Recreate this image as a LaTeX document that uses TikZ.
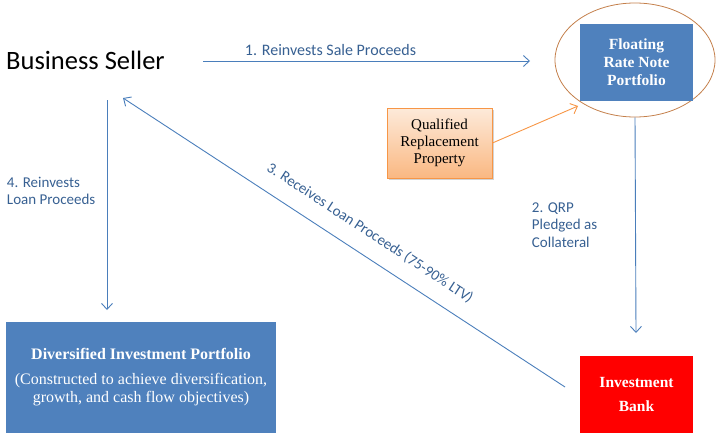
\documentclass[tikz,border=0pt]{standalone}
\usepackage{fontspec}
\setmainfont{Liberation Serif}
\newfontfamily\calfont{Carlito}
\usetikzlibrary{arrows.meta,shadows,shapes.geometric}
\definecolor{lineblue}{RGB}{74,126,187}
\definecolor{boxblue}{RGB}{79,129,189}
\definecolor{textblue}{RGB}{55,96,146}
\definecolor{qrpline}{RGB}{247,150,70}
\definecolor{qrptop}{RGB}{253,234,218}
\definecolor{qrpbot}{RGB}{250,184,130}
\definecolor{ringbrown}{RGB}{196,128,76}
\tikzset{
  flow/.style={draw=lineblue, line width=0.9pt, -{Straight Barb[length=6pt,width=11pt]}},
  steplabel/.style={text=textblue, font=\calfont\fontsize{15}{17.5}\selectfont, inner sep=0.75pt},
  fillbox/.style={text=white, font=\bfseries\fontsize{15.5}{18}\selectfont, align=center, inner sep=0pt},
}
\begin{document}
\begin{tikzpicture}[x=1pt,y=1pt,yscale=-1,xscale=1]
    \useasboundingbox (0,0) rectangle (719,439);
    % Text Node
    \node[anchor=west, inner sep=0pt, font=\calfont\fontsize{26.5}{30}\selectfont] (seller) at (6,60) {Business Seller};
    % Ellipse
    \node[draw=ringbrown, line width=0.8pt, ellipse, minimum width=160, minimum height=114] (ring) at (635,60) {};
    % Blue box
    \node[fillbox, fill=boxblue, minimum width=113, minimum height=77] (frn) at (636.5,62.5) {Floating\\Rate Note\\Portfolio};
    % Orange box
    \node[draw=qrpline, line width=0.8pt, top color=qrptop, bottom color=qrpbot, drop shadow={opacity=0.35, shadow xshift=2pt, shadow yshift=-2pt},
          minimum width=105, minimum height=70, align=center, inner sep=0pt, font=\fontsize{15}{17}\selectfont] (qrp) at (439.5,143) {Qualified\\Replacement\\Property};
    % Red box
    \node[fillbox, fill=red, minimum width=113, minimum height=77, font=\bfseries\fontsize{15.5}{24}\selectfont] (bank) at (636.5,394.5) {Investment\\Bank};
    % Blue box, bottom left
    \node[fillbox, fill=boxblue, minimum width=270, minimum height=111, font=\fontsize{16}{18}\selectfont] (divport) at (141,377.5)
        {\textbf{Diversified Investment Portfolio}\\[7pt](Constructed to achieve diversification,\\growth, and cash flow objectives)};
    % Arrow ends
    \coordinate (sellout) at (203,61);
    \coordinate (ringin) at (530,61);
    \coordinate (ringtip) at (578,106);
    \coordinate (bankin) at (636,333);
    \coordinate (bankout) at (565,387);
    \coordinate (sellin) at (123,98);
    \coordinate (sellfoot) at (107,100);
    \coordinate (divin) at (107,310);
    % Connectors
    \draw[flow] (sellout) -- node[steplabel, font=\calfont\fontsize{16}{19}\selectfont, pos=0.39, above=4pt] (lab1) {1. Reinvests Sale Proceeds} (ringin);
    \draw[draw=qrpline, line width=0.9pt, -{Straight Barb[length=6pt,width=11pt]}] (qrp.east) -- (ringtip);
    \draw[flow] (ring.south) -- (bankin);
    \draw[flow] (bankout) -- (sellin);
    \draw[flow] (sellfoot) -- (divin);
    % Text Node
    \node[steplabel, rotate=-33.2] (lab3) at (370,233) {3. Receives Loan Proceeds (75-90\% LTV)};
    % Text Node
    \node[steplabel, anchor=west, align=left] (lab2) at (531,225) {2. QRP\\Pledged as\\Collateral};
    % Text Node
    \node[steplabel, anchor=west, align=left] (lab4) at (6,191) {4. Reinvests\\Loan Proceeds};
\end{tikzpicture}
\end{document}
